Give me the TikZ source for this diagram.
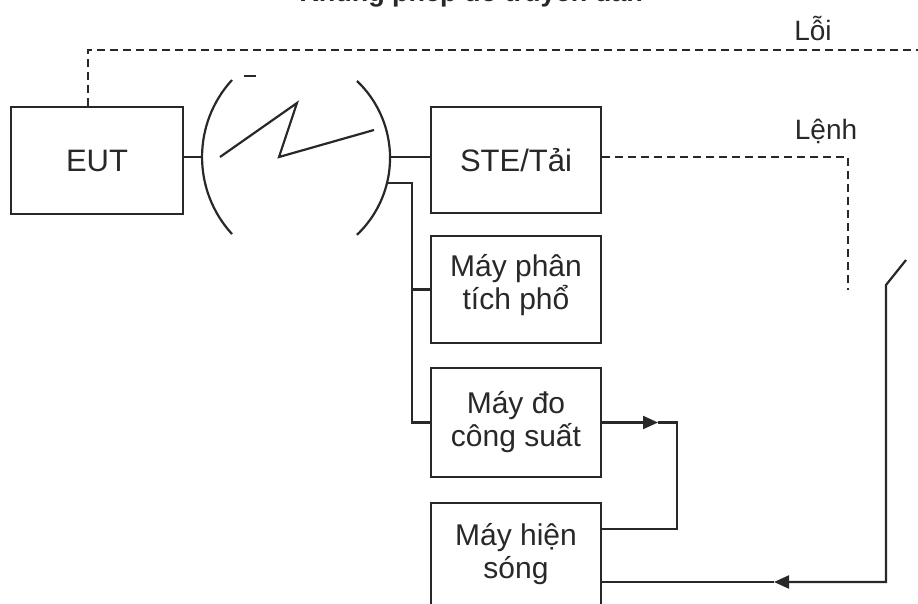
\documentclass[tikz,border=0pt]{standalone}
\usepackage{fontspec}
\setmainfont{Liberation Sans}
\usetikzlibrary{arrows.meta}
\definecolor{ink}{RGB}{40,40,40}
\begin{document}
\begin{tikzpicture}[x=1pt,y=-1pt,
  line width=2.2pt, draw=ink,
  box/.style={draw=ink, line width=2.2pt, minimum width=170pt, inner sep=0pt, align=center, font=\fontsize{30}{33}\selectfont, text=ink},
  ctrl/.style={draw=ink, line width=2.2pt, dash pattern=on 8pt off 5pt},
  tip/.style={-{Triangle[length=15pt,width=13pt]}},
  lbl/.style={font=\fontsize{28}{30}\selectfont, text=ink, inner sep=0pt, anchor=base}
]
\useasboundingbox (0,0) rectangle (918,604);

% title (cut off at the top in the reference)
\node[font=\bfseries\fontsize{27}{30}\selectfont, anchor=base, text=ink, inner sep=0pt] (title) at (471,2) {Khung phép đo truyền dẫn};

% boxes
\node[box, minimum width=172pt, minimum height=107pt, font=\fontsize{31}{33}\selectfont] (eut) at (97,160.5) {EUT};
\node[box, minimum height=106pt, font=\fontsize{31}{33}\selectfont] (ste) at (516,160) {STE/Tải};
\node[box, minimum height=107pt] (pt) at (516,289.5) {};
\node[box, draw=none, minimum height=0pt, minimum width=0pt] (pttext) at (516,285) {Máy phân\\tích phổ};
\node[box, minimum height=109pt] (do) at (516,422.5) {Máy đo\\công suất};
\node[box, minimum height=107pt] (hs) at (516,556.5) {};
\node[box, draw=none, minimum height=0pt, minimum width=0pt] (hstext) at (516,554) {Máy hiện\\sóng};

% labels
\node[lbl] (loi) at (813,41) {Lỗi};
\node[lbl] (lenh) at (826,140) {Lệnh};

% coordinates
\coordinate (aL) at (202,157);
\coordinate (aR) at (390,157);
\coordinate (aR2) at (388,183);
\coordinate (bus) at (412,183);
\coordinate (f0) at (88,50);
\coordinate (fault) at (918,50);
\coordinate (cmd) at (848,157);
\coordinate (cmdend) at (848,290);
\coordinate (tip1) at (658,422.5);
\coordinate (loopR) at (677,422.5);
\coordinate (loopB) at (677,529);
\coordinate (sw1) at (906,260);
\coordinate (sw2) at (886,285);
\coordinate (sw3) at (886,582);
\coordinate (tip2) at (774,582);

% radio link symbol
\draw (232,80) arc[start angle=222.5, end angle=137.5, radius=114];
\draw (357,81) arc[start angle=-46.5, end angle=46.5, radius=106];
\draw[line width=1.5pt] (244,76) -- (256,76);
\draw (220,157) -- (297,103) -- (279,157) -- (374,130);

% connectors
\draw (eut.east |- aL) -- (aL);
\draw (aR) -- (ste.west |- aR);
\draw (aR2) -- (bus) |- (do.west);
\draw (bus |- pt.west) -- (pt.west);
\draw[tip] (do.east) -- (tip1);
\draw (tip1) -- (loopR) -- (loopB) -- (hs.east |- loopB);
\draw[tip] (sw1) -- (sw2) -- (sw3) -- (tip2);
\draw (tip2) -- (hs.east |- tip2);

% dashed control lines
\draw[ctrl] (eut.north -| f0) -- (f0) -- (fault);
\draw[ctrl] (ste.east |- cmd) -- (cmd) -- (cmdend);
\end{tikzpicture}
\end{document}
